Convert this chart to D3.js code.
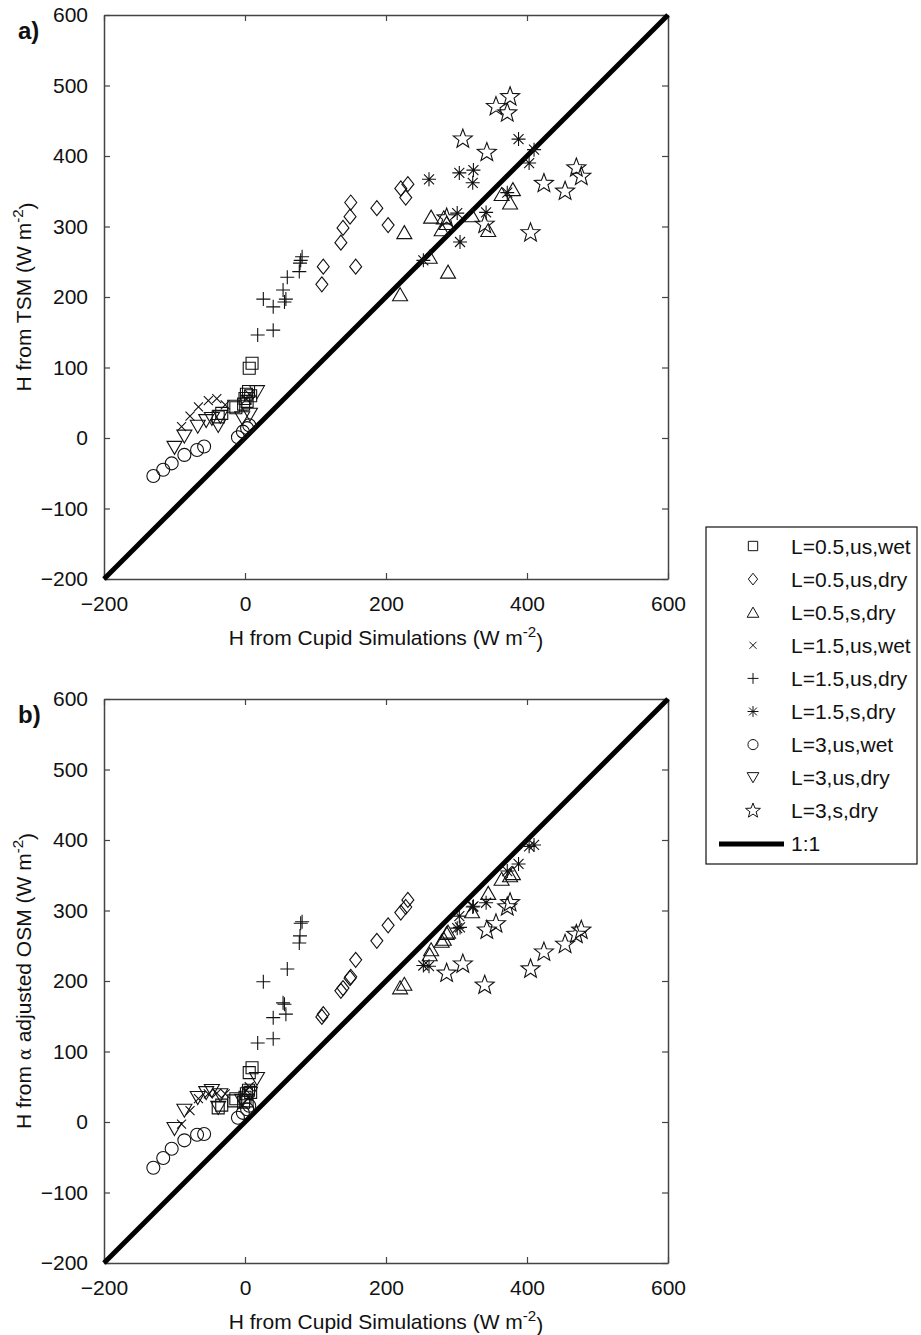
<!DOCTYPE html>
<html>
<head>
<meta charset="utf-8">
<script src="https://cdn.jsdelivr.net/npm/d3@7"></script>
<style>
  html, body { margin: 0; padding: 0; background: #fff; }
  svg text { font-family: "Liberation Sans", Arial, sans-serif; fill: #111; }
</style>
</head>
<body>
<svg id="chart" width="921" height="1335"></svg>
<script>
// ---- data -------------------------------------------------------------
const seriesNames = ["L=0.5,us,wet", "L=0.5,us,dry", "L=0.5,s,dry",
                     "L=1.5,us,wet", "L=1.5,us,dry", "L=1.5,s,dry",
                     "L=3,us,wet", "L=3,us,dry", "L=3,s,dry"];
const xTicks = [-200, 0, 200, 400, 600];
const yTicks = [-200, -100, 0, 100, 200, 300, 400, 500, 600];

// L=0.5, unstable, wet
const cupid05usWet = [-38, -33, -16, -13, -2, 0, 2, 3, 5, 6, 8, 10];
const tsm05usWet   = [30, 35, 45, 43, 48, 56, 62, 52, 66, 99, 60, 106];
const osm05usWet   = [20, 24, 30, 33, 28, 35, 40, 30, 45, 70, 42, 77];

// L=0.5, unstable, dry
const cupid05usDry = [109, 111, 136, 139, 149, 150, 157, 187, 203, 221, 228, 231];
const tsm05usDry   = [218, 243, 277, 298, 314, 334, 243, 326, 302, 354, 341, 360];
const osm05usDry   = [149, 153, 186, 190, 204, 206, 230, 257, 279, 297, 305, 315];

// L=0.5, stable, dry
const cupid05sDry = [220, 226, 262, 264, 279, 282, 286, 288, 322, 345, 364, 376, 380];
const tsm05sDry   = [204, 292, 257, 314, 296, 313, 305, 236, 316, 295, 346, 334, 353];
const osm05sDry   = [191, 196, 238, 245, 257, 260, 268, 270, 299, 325, 345, 350, 353];

// L=1.5, unstable, wet
const cupid15usWet = [-90, -78, -66, -52, -40, -28, 2, 6];
const tsm15usWet   = [16, 31, 44, 53, 56, 47, 55, 62];
const osm15usWet   = [-3, 16, 33, 40, 41, 40, 45, 50];

// L=1.5, unstable, dry
const cupid15usDry = [18, 26, 40, 40, 54, 56, 58, 60, 77, 78, 79, 81];
const tsm15usDry   = [146, 197, 153, 186, 210, 193, 197, 228, 236, 248, 252, 257];
const osm15usDry   = [112, 199, 118, 148, 169, 167, 153, 217, 254, 264, 282, 284];

// L=1.5, stable, dry
const cupid15sDry = [253, 261, 301, 304, 305, 323, 324, 342, 372, 388, 403, 410];
const tsm15sDry   = [252, 367, 319, 376, 278, 362, 380, 320, 348, 424, 390, 409];
const osm15sDry   = [222, 221, 275, 292, 276, 305, 306, 311, 356, 366, 391, 393];

// L=3, unstable, wet
const cupid3usWet = [-130, -116, -104, -86, -68, -58, -10, -3, 3, 6];
const tsm3usWet   = [-54, -45, -36, -24, -17, -12, 1, 9, 14, 18];
const osm3usWet   = [-65, -51, -38, -26, -18, -17, 6, 13, 18, 23];

// L=3, unstable, dry
const cupid3usDry = [-100, -86, -67, -55, -47, -38, -35, -4, 7, 17];
const tsm3usDry   = [-14, 2, 16, 24, 27, 17, 30, 28, 33, 65];
const osm3usDry   = [-10, 16, 34, 41, 44, 20, 38, 30, 40, 61];

// L=3, stable, dry
const cupid3sDry = [286, 309, 340, 343, 356, 372, 376, 405, 424, 454, 470, 477];
const tsm3sDry   = [312, 424, 303, 405, 470, 461, 484, 291, 361, 350, 383, 371];
const osm3sDry   = [211, 224, 194, 272, 281, 305, 311, 217, 241, 252, 266, 272];

// one-to-one reference line end points
const oneToOne = [-200, 600];

// ---- marker shapes (path strings centred on 0,0, k = scale) ------------
const markers = {
  square:   k => { const h = 6 * k; return `M${-h},${-h}H${h}V${h}H${-h}Z`; },
  diamond:  k => { const w = 6 * k, h = 7.5 * k; return `M0,${-h}L${w},0L0,${h}L${-w},0Z`; },
  triUp:    k => { const w = 7.5 * k, h = 6.5 * k; return `M0,${-h}L${w},${h}L${-w},${h}Z`; },
  xmark:    k => { const a = 4.5 * k; return `M${-a},${-a}L${a},${a}M${-a},${a}L${a},${-a}`; },
  plus:     k => { const a = 7 * k; return `M${-a},0H${a}M0,${-a}V${a}`; },
  asterisk: k => { const a = 7 * k, b = 5 * k; return `M${-a},0H${a}M0,${-a}V${a}M${-b},${-b}L${b},${b}M${-b},${b}L${b},${-b}`; },
  circle:   k => { const r = 6.5 * k; return `M${r},0A${r},${r} 0 1,1 ${-r},0A${r},${r} 0 1,1 ${r},0Z`; },
  triDown:  k => { const w = 7.5 * k, h = 6.5 * k; return `M0,${h}L${w},${-h}L${-w},${-h}Z`; },
  star:     k => {
    const R = 10 * k, r = 4.2 * k;
    let p = "";
    for (let i = 0; i < 10; i++) {
      const rad = i % 2 === 0 ? R : r;
      const ang = -Math.PI / 2 + i * Math.PI / 5;
      p += (i ? "L" : "M") + (rad * Math.cos(ang)).toFixed(2) + "," + (rad * Math.sin(ang)).toFixed(2);
    }
    return p + "Z";
  }
};

const series = [
  { name: seriesNames[0], shape: "square",   x: cupid05usWet, a: tsm05usWet, b: osm05usWet },
  { name: seriesNames[1], shape: "diamond",  x: cupid05usDry, a: tsm05usDry, b: osm05usDry },
  { name: seriesNames[2], shape: "triUp",    x: cupid05sDry,  a: tsm05sDry,  b: osm05sDry },
  { name: seriesNames[3], shape: "xmark",    x: cupid15usWet, a: tsm15usWet, b: osm15usWet },
  { name: seriesNames[4], shape: "plus",     x: cupid15usDry, a: tsm15usDry, b: osm15usDry },
  { name: seriesNames[5], shape: "asterisk", x: cupid15sDry,  a: tsm15sDry,  b: osm15sDry },
  { name: seriesNames[6], shape: "circle",   x: cupid3usWet,  a: tsm3usWet,  b: osm3usWet },
  { name: seriesNames[7], shape: "triDown",  x: cupid3usDry,  a: tsm3usDry,  b: osm3usDry },
  { name: seriesNames[8], shape: "star",     x: cupid3sDry,   a: tsm3sDry,   b: osm3sDry }
];

// ---- layout -------------------------------------------------------------
const svg = d3.select("#chart");
const FS = 21;
const x = d3.scaleLinear().domain([-200, 600]).range([104, 668]);

function superTitle(sel, parts) {
  // parts: base text, then superscript, then closing text
  sel.append("tspan").text(parts[0]);
  sel.append("tspan").attr("dy", "-0.5em").attr("font-size", "0.72em").text(parts[1]);
  sel.append("tspan").attr("dy", "0.5em").text(parts[2]);
}

function panel(top, bottom, key, tag, yTitle) {
  const y = d3.scaleLinear().domain([-200, 600]).range([bottom, top]);
  const g = svg.append("g");

  // frame with inward ticks on all four sides
  const tick = 6;
  const axes = [
    d3.axisBottom(x).tickValues(xTicks).tickSize(-tick).tickSizeOuter(0).tickPadding(17),
    d3.axisLeft(y).tickValues(yTicks).tickSize(-tick).tickSizeOuter(0).tickPadding(16),
    d3.axisTop(x).tickValues(xTicks).tickSize(-tick).tickSizeOuter(0).tickFormat(""),
    d3.axisRight(y).tickValues(yTicks).tickSize(-tick).tickSizeOuter(0).tickFormat("")
  ];
  const pos = [`translate(0,${bottom})`, `translate(104,0)`, `translate(0,${top})`, `translate(668,0)`];
  axes.forEach((ax, i) => {
    const a = g.append("g").attr("transform", pos[i]).call(ax);
    a.selectAll("path.domain").attr("stroke", "#444").attr("stroke-width", 1.5);
    a.selectAll(".tick line").attr("stroke", "#444").attr("stroke-width", 1.2);
    a.selectAll("text").attr("font-size", FS).attr("font-family", "Liberation Sans, Arial, sans-serif").attr("fill", "#111");
  });

  // 1:1 line
  g.append("line")
    .attr("x1", x(oneToOne[0])).attr("y1", y(oneToOne[0]))
    .attr("x2", x(oneToOne[1])).attr("y2", y(oneToOne[1]))
    .attr("stroke", "#000").attr("stroke-width", 5);

  // markers
  series.forEach(s => {
    g.append("g").selectAll("path")
      .data(s.x.map((v, i) => [v, s[key][i]]))
      .join("path")
      .attr("transform", d => `translate(${x(d[0])},${y(d[1])})`)
      .attr("d", markers[s.shape](1))
      .attr("fill", "none").attr("stroke", "#111").attr("stroke-width", 1.1);
  });

  // panel tag
  g.append("text").attr("x", 18).attr("y", top + 24)
    .attr("font-size", 24).attr("font-weight", "bold").text(tag);

  // axis titles
  const xt = g.append("text").attr("x", 386).attr("y", bottom + 66)
    .attr("text-anchor", "middle").attr("font-size", FS);
  superTitle(xt, ["H from Cupid Simulations (W m", "-2", ")"]);

  const cy = (top + bottom) / 2;
  const yt = g.append("text").attr("transform", `translate(31,${cy}) rotate(-90)`)
    .attr("text-anchor", "middle").attr("font-size", FS);
  yTitle(yt);
}

panel(15, 579, "a", "a)", t => superTitle(t, ["H from TSM (W m", "-2", ")"]));
panel(699, 1263, "b", "b)", t => {
  t.append("tspan").text("H from ");
  t.append("tspan").attr("font-family", "DejaVu Serif, serif").attr("font-size", "0.85em").text("α");
  superTitle(t, [" adjusted OSM (W m", "-2", ")"]);
});

// ---- legend -------------------------------------------------------------
const lg = svg.append("g");
lg.append("rect").attr("x", 706).attr("y", 527).attr("width", 211).attr("height", 337)
  .attr("fill", "#fff").attr("stroke", "#111").attr("stroke-width", 1.2);
const rowY = i => 546 + i * 33.1;
series.forEach((s, i) => {
  lg.append("path").attr("transform", `translate(753,${rowY(i)})`)
    .attr("d", markers[s.shape](0.78))
    .attr("fill", "none").attr("stroke", "#111").attr("stroke-width", 1);
  lg.append("text").attr("x", 791).attr("y", rowY(i)).attr("dy", "0.36em")
    .attr("font-size", FS).text(s.name);
});
lg.append("line").attr("x1", 719).attr("x2", 784).attr("y1", rowY(9)).attr("y2", rowY(9))
  .attr("stroke", "#000").attr("stroke-width", 5);
lg.append("text").attr("x", 791).attr("y", rowY(9)).attr("dy", "0.36em")
  .attr("font-size", FS).text("1:1");
</script>
</body>
</html>
